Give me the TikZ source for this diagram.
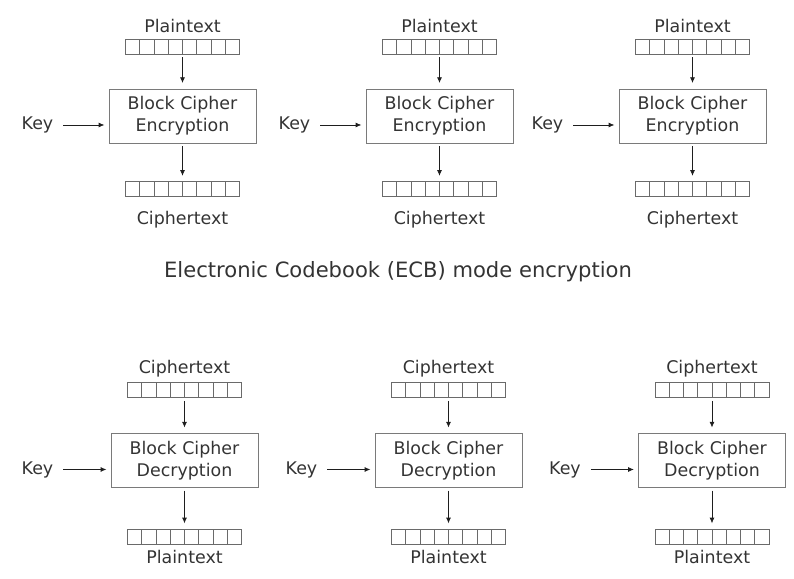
\documentclass[tikz,border=0pt]{standalone}
\usepackage{fontspec}
\setmainfont{DejaVu Sans}
\usetikzlibrary{positioning,arrows.meta,calc}

\definecolor{txtgray}{HTML}{333333}
\definecolor{boxgray}{HTML}{7A7A7A}
\definecolor{reggray}{HTML}{6A6A6A}
\definecolor{arrgray}{HTML}{1E1E1E}

\tikzset{
  cipher/.style={draw=boxgray, line width=0.6pt, minimum width=3.675cm, minimum height=1.35cm,
    align=center, text=txtgray, font=\fontsize{12.4}{15.5}\selectfont},
  register/.style={draw=reggray, line width=0.6pt, minimum width=2.85cm, minimum height=0.375cm,
    inner sep=0pt,
    path picture={
      \foreach \i in {1,...,7}
        \draw[reggray, line width=0.6pt]
          ($(path picture bounding box.south west)!\i/8!(path picture bounding box.south east)$) --
          ($(path picture bounding box.north west)!\i/8!(path picture bounding box.north east)$);
    }},
  lbl/.style={text=txtgray, inner sep=0pt, font=\fontsize{12.4}{15.5}\selectfont},
  down/.style={-{Latex[length=4pt,width=3.5pt]}, draw=arrgray, line width=0.5pt,
    shorten <=2pt, shorten >=4pt},
  keyarr/.style={-{Latex[length=4pt,width=3.5pt]}, draw=arrgray, line width=0.5pt,
    shorten <=7pt, shorten >=3pt}
}

\begin{document}
\begin{tikzpicture}
\def\yenc{11.575};
\def\ydec{2.9625};
\def\dkey{-0.225};

\useasboundingbox (0,0) rectangle (19.85,14.475);

% encryption row
\node[cipher] (enc1) at (4.5625, \yenc) {Block Cipher\\Encryption};
\node[cipher] (enc2) at (10.9875, \yenc) {Block Cipher\\Encryption};
\node[cipher] (enc3) at (17.3125, \yenc) {Block Cipher\\Encryption};

\node[register, above=0.85cm of enc1] (pt1) {};
\node[register, above=0.85cm of enc2] (pt2) {};
\node[register, above=0.85cm of enc3] (pt3) {};
\node[lbl, above=0.15cm of pt1, anchor=base] (ptl1) {Plaintext};
\node[lbl, above=0.15cm of pt2, anchor=base] (ptl2) {Plaintext};
\node[lbl, above=0.15cm of pt3, anchor=base] (ptl3) {Plaintext};

\node[register, below=0.95cm of enc1] (ct1) {};
\node[register, below=0.95cm of enc2] (ct2) {};
\node[register, below=0.95cm of enc3] (ct3) {};
\node[lbl, below=0.675cm of ct1, anchor=base] (ctl1) {Ciphertext};
\node[lbl, below=0.675cm of ct2, anchor=base] (ctl2) {Ciphertext};
\node[lbl, below=0.675cm of ct3, anchor=base] (ctl3) {Ciphertext};

\draw[down] (pt1) -- (enc1);
\draw[down] (pt2) -- (enc2);
\draw[down] (pt3) -- (enc3);
\draw[down] (enc1) -- (ct1);
\draw[down] (enc2) -- (ct2);
\draw[down] (enc3) -- (ct3);

\coordinate (kin1) at ($(enc1.west) + (0, \dkey)$);
\coordinate (kin2) at ($(enc2.west) + (0, \dkey)$);
\coordinate (kin3) at ($(enc3.west) + (0, \dkey)$);
\node[lbl, left=1.375cm of kin1] (key1) {Key};
\node[lbl, left=1.375cm of kin2] (key2) {Key};
\node[lbl, left=1.375cm of kin3] (key3) {Key};
\draw[keyarr] (key1) -- (kin1);
\draw[keyarr] (key2) -- (kin2);
\draw[keyarr] (key3) -- (kin3);

% title
\node[text=txtgray, font=\fontsize{15}{18}\selectfont, anchor=base] (title) at (9.95, 7.525)
  {Electronic Codebook (ECB) mode encryption};

% decryption row
\node[cipher] (dec1) at (4.6125, \ydec) {Block Cipher\\Decryption};
\node[cipher] (dec2) at (11.2125, \ydec) {Block Cipher\\Decryption};
\node[cipher] (dec3) at (17.8, \ydec) {Block Cipher\\Decryption};

\node[register, above=0.875cm of dec1] (ci1) {};
\node[register, above=0.875cm of dec2] (ci2) {};
\node[register, above=0.875cm of dec3] (ci3) {};
\node[lbl, above=0.225cm of ci1, anchor=base] (cil1) {Ciphertext};
\node[lbl, above=0.225cm of ci2, anchor=base] (cil2) {Ciphertext};
\node[lbl, above=0.225cm of ci3, anchor=base] (cil3) {Ciphertext};

\node[register, below=1.025cm of dec1] (pl1) {};
\node[register, below=1.025cm of dec2] (pl2) {};
\node[register, below=1.025cm of dec3] (pl3) {};
\node[lbl, below=0.475cm of pl1, anchor=base] (pll1) {Plaintext};
\node[lbl, below=0.475cm of pl2, anchor=base] (pll2) {Plaintext};
\node[lbl, below=0.475cm of pl3, anchor=base] (pll3) {Plaintext};

\draw[down] (ci1) -- (dec1);
\draw[down] (ci2) -- (dec2);
\draw[down] (ci3) -- (dec3);
\draw[down] (dec1) -- (pl1);
\draw[down] (dec2) -- (pl2);
\draw[down] (dec3) -- (pl3);

\coordinate (kout1) at ($(dec1.west) + (0, \dkey)$);
\coordinate (kout2) at ($(dec2.west) + (0, \dkey)$);
\coordinate (kout3) at ($(dec3.west) + (0, \dkey)$);
\node[lbl, left=1.425cm of kout1] (dkey1) {Key};
\node[lbl, left=1.425cm of kout2] (dkey2) {Key};
\node[lbl, left=1.425cm of kout3] (dkey3) {Key};
\draw[keyarr] (dkey1) -- (kout1);
\draw[keyarr] (dkey2) -- (kout2);
\draw[keyarr] (dkey3) -- (kout3);

\end{tikzpicture}
\end{document}
